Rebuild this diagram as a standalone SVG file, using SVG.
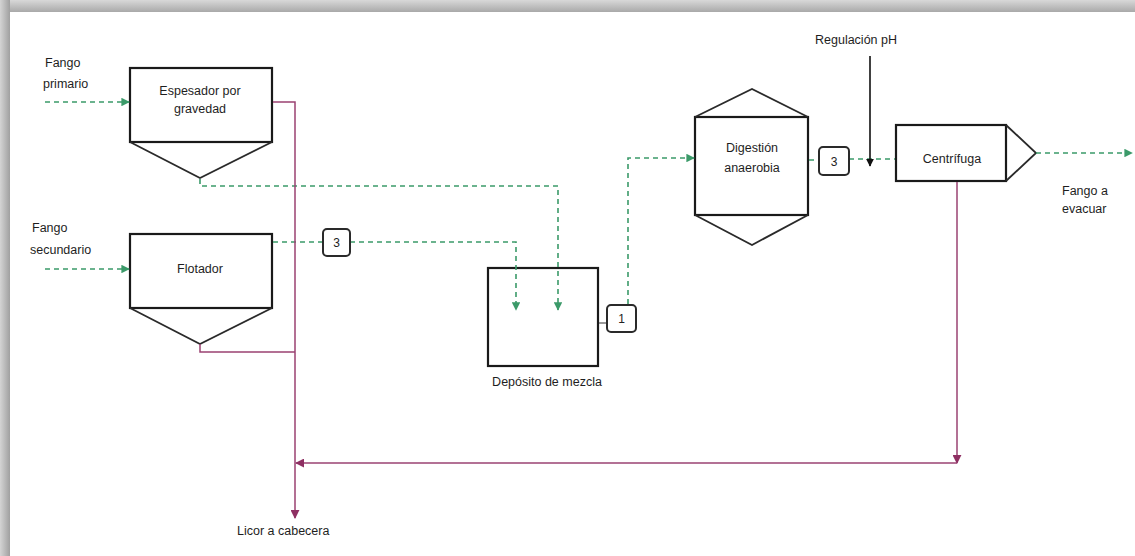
<svg xmlns="http://www.w3.org/2000/svg" width="1135" height="556" viewBox="0 0 1135 556">
  <defs>
    <linearGradient id="shadeTop" x1="0" y1="0" x2="0" y2="1">
      <stop offset="0" stop-color="#d8d8d8"/>
      <stop offset="1" stop-color="#a9a9a9"/>
    </linearGradient>
    <linearGradient id="shadeLeft" x1="0" y1="0" x2="1" y2="0">
      <stop offset="0" stop-color="#d4d4d4"/>
      <stop offset="1" stop-color="#a0a0a0"/>
    </linearGradient>
    <marker id="arrGreen" viewBox="0 0 10 10" refX="9" refY="5" markerWidth="8.5" markerHeight="8.5" orient="auto" markerUnits="userSpaceOnUse">
      <path d="M0,0 L10,5 L0,10 Z" fill="#3b9a69"/>
    </marker>
    <marker id="arrPurple" viewBox="0 0 10 10" refX="9" refY="5" markerWidth="9" markerHeight="9" orient="auto" markerUnits="userSpaceOnUse">
      <path d="M0,0 L10,5 L0,10 Z" fill="#8e2f62"/>
    </marker>
    <marker id="arrBlack" viewBox="0 0 10 10" refX="9" refY="5" markerWidth="8" markerHeight="8" orient="auto" markerUnits="userSpaceOnUse">
      <path d="M0,0 L10,5 L0,10 Z" fill="#111"/>
    </marker>
  </defs>
  <style>
    .box { fill: #fff; stroke: #1a1a1a; stroke-width: 2.2; }
    .hopper { fill: none; stroke: #2a2a2a; stroke-width: 1.8; stroke-linejoin: miter; }
    .tag { fill: #fff; stroke: #2a2a2a; stroke-width: 2; }
    .sludge { fill: none; stroke: #3b9a69; stroke-width: 1.6; stroke-dasharray: 5 4; }
    .liquor { fill: none; stroke: #9a4272; stroke-width: 1.5; }
    .dose { fill: none; stroke: #111; stroke-width: 1.6; }
    .lbl { font-family: "Liberation Sans", Arial, sans-serif; font-size: 12.5px; fill: #1e1e1e; }
    .mid { text-anchor: middle; }
    .num { font-family: "Liberation Sans", Arial, sans-serif; font-size: 12px; fill: #222; text-anchor: middle; }
  </style>

  <!-- page background with soft frame shading -->
  <rect x="0" y="0" width="1135" height="556" fill="#fff"/>
  <rect x="0" y="0" width="1135" height="12" fill="url(#shadeTop)"/>
  <rect x="0" y="0" width="10" height="556" fill="url(#shadeLeft)"/>

  <!-- process units -->
  <g id="espesador">
    <rect class="box" x="130" y="68" width="142" height="74"/>
    <polyline class="hopper" points="130,142 200,178 272,142"/>
    <text class="lbl mid" x="200" y="95">Espesador por</text>
    <text class="lbl mid" x="200" y="113">gravedad</text>
  </g>

  <g id="flotador">
    <rect class="box" x="130" y="234" width="142" height="74"/>
    <polyline class="hopper" points="130,308 200,344 272,308"/>
    <text class="lbl mid" x="200" y="273">Flotador</text>
  </g>

  <g id="deposito">
    <rect class="box" x="488" y="268" width="110" height="98"/>
    <text class="lbl mid" x="547" y="386">Depósito de mezcla</text>
  </g>

  <g id="digestion">
    <rect class="box" x="695" y="117" width="113" height="98"/>
    <polyline class="hopper" points="695,117 752,89 808,117"/>
    <polyline class="hopper" points="695,215 752,245 808,215"/>
    <text class="lbl mid" x="752" y="152">Digestión</text>
    <text class="lbl mid" x="752" y="172">anaerobia</text>
  </g>

  <g id="centrifuga">
    <rect class="box" x="896" y="125" width="110" height="56"/>
    <polyline class="hopper" points="1006,125 1036,153 1006,181"/>
    <text class="lbl mid" x="952" y="163">Centrífuga</text>
  </g>

  <!-- connectors -->
  <g id="connectors">
    <!-- sludge lines (green, dashed) -->
    <line class="sludge" x1="45" y1="102" x2="129" y2="102" marker-end="url(#arrGreen)"/>
    <line class="sludge" x1="45" y1="269" x2="129" y2="269" marker-end="url(#arrGreen)"/>
    <polyline class="sludge" points="200,179 200,186 558,186 558,310" marker-end="url(#arrGreen)"/>
    <line class="sludge" x1="273" y1="242" x2="323" y2="242"/>
    <polyline class="sludge" points="350,242 516,242 516,310" marker-end="url(#arrGreen)"/>
    <polyline class="sludge" points="628,304 628,158 694,158" marker-end="url(#arrGreen)"/>
    <line class="sludge" x1="809" y1="160" x2="819" y2="160"/>
    <line class="sludge" x1="849" y1="159" x2="895" y2="159"/>
    <line class="sludge" x1="1036" y1="153" x2="1132" y2="153" marker-end="url(#arrGreen)"/>
    <line x1="599" y1="323" x2="607" y2="323" stroke="#555" stroke-width="1.2"/>

    <!-- pH dosing -->
    <line class="dose" x1="870" y1="56" x2="870" y2="166" marker-end="url(#arrBlack)"/>

    <!-- liquor return lines (purple) -->
    <polyline class="liquor" points="273,102 295,102 295,518" marker-end="url(#arrPurple)"/>
    <polyline class="liquor" points="200,344 200,352 295,352"/>
    <line class="liquor" x1="957" y1="182" x2="957" y2="463" marker-end="url(#arrPurple)"/>
    <line class="liquor" x1="957" y1="463" x2="296" y2="463" marker-end="url(#arrPurple)"/>
  </g>

  <!-- stream tags -->
  <g id="tag-3a">
    <rect class="tag" x="323" y="229" width="27" height="27" rx="4"/>
    <text class="num" x="336.5" y="247">3</text>
  </g>
  <g id="tag-1">
    <rect class="tag" x="607" y="305" width="29" height="27" rx="4"/>
    <text class="num" x="621.5" y="323">1</text>
  </g>
  <g id="tag-3b">
    <rect class="tag" x="819" y="147" width="30" height="28" rx="4"/>
    <text class="num" x="834" y="166">3</text>
  </g>

  <!-- stream labels -->
  <g id="labels">
    <text class="lbl" x="45" y="67">Fango</text>
    <text class="lbl" x="43" y="88">primario</text>
    <text class="lbl" x="32" y="232">Fango</text>
    <text class="lbl" x="30" y="254">secundario</text>
    <text class="lbl mid" x="856" y="44">Regulación pH</text>
    <text class="lbl" x="1062" y="195">Fango a</text>
    <text class="lbl" x="1062" y="213">evacuar</text>
    <text class="lbl" x="237" y="535">Licor a cabecera</text>
  </g>
</svg>
